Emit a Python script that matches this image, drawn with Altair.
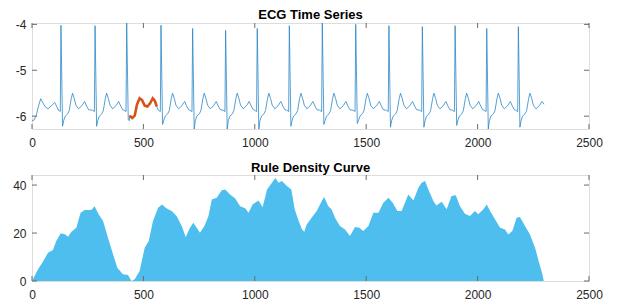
import altair as alt
import pandas as pd

# ---------------- data ----------------
# ECG: R-peak positions, R-peak heights and S-trough depths per beat
ecg_r_pos = [130, 283, 425, 579, 721, 869, 1011, 1155, 1303, 1453, 1602, 1752, 1899, 2041, 2183]
ecg_r_val = [-4.02, -4.03, -3.97, -4.02, -4.09, -4.13, -4.09, -4.03, -3.97, -4.00, -4.03, -4.05, -4.03, -4.09, -4.05]
ecg_s_val = [-6.22, -6.22, -6.08, -6.18, -6.28, -6.28, -6.28, -6.22, -6.18, -6.16, -6.24, -6.24, -6.20, -6.28, -6.24]
# beat shape around each R peak (offset from R, value); None = R / S slots
beat_off = [-12, -3, 0, 7, 12, 19, 30, 37, 46, 52, 60, 67, 79, 94, 106, 115, 124]
beat_val = [-5.87, -5.90, None, None, -6.10, -6.00, -5.95, -5.88, -5.62, -5.50, -5.62, -5.76, -5.84, -5.77, -5.68, -5.78, -5.86]
# samples before the first R peak
ecg_start_x = [0, 10, 20, 28, 39, 50, 60, 72, 90, 102, 110, 118]
ecg_start_y = [-6.10, -6.08, -5.97, -5.80, -5.62, -5.72, -5.80, -5.84, -5.76, -5.70, -5.78, -5.86]
ecg_end_x = 2298
ecg_end_y = -5.74

# highlighted (orange) sub-sequence
hl_x = [438, 450, 461, 471, 483, 494, 506, 518, 530, 542, 551, 560]
hl_y = [-5.99, -6.04, -5.99, -5.75, -5.61, -5.65, -5.77, -5.79, -5.72, -5.61, -5.66, -5.79]

# rule density curve
dens_x = [0, 3, 27, 49, 72, 94, 109, 129, 147, 162, 177, 199, 218, 237, 266, 281, 299, 319, 341, 364,
          383, 408, 431, 446, 461, 483, 506, 524, 543, 566, 584, 597, 611, 627, 649, 672, 690, 709, 724,
          739, 754, 774, 792, 807, 829, 852, 867, 889, 912, 934, 957, 972, 990, 1017, 1035, 1055, 1077,
          1092, 1107, 1122, 1144, 1164, 1179, 1197, 1212, 1222, 1233, 1255, 1278, 1300, 1311, 1330, 1345,
          1360, 1382, 1405, 1427, 1450, 1469, 1487, 1510, 1532, 1555, 1577, 1600, 1619, 1640, 1659, 1674,
          1689, 1712, 1734, 1749, 1764, 1779, 1802, 1815, 1839, 1861, 1883, 1902, 1921, 1943, 1966, 1988,
          2003, 2026, 2041, 2056, 2078, 2101, 2123, 2138, 2156, 2175, 2190, 2213, 2235, 2258, 2276, 2291, 2297]
dens_y = [0, 0.5, 4.9, 8, 11.8, 12.9, 16.7, 19.9, 19.5, 18.5, 20.5, 22.2, 28.5, 29.6, 29.6, 31.2, 27.8, 25, 18, 11.1,
          5.5, 2.8, 2.5, 0, 0.7, 4.2, 13.9, 16.7, 25, 30.5, 31.9, 30.8, 29.9, 29.2, 27.1, 22.9, 18.3, 22.2, 24.3,
          22.2, 20.1, 22.9, 27.1, 34, 34.7, 37.8, 38.2, 36.1, 34.4, 31.2, 30.3, 28.5, 31.9, 33.6, 30.8, 38.2, 41,
          43, 41, 41.7, 39.6, 38.2, 29.9, 25, 21.5, 20.5, 23.6, 26.4, 29.2, 33.3, 35, 31.2, 29.8,
          26.4, 22.9, 21.5, 18.8, 22.5, 22.2, 20.8, 22.9, 28.5, 28.5, 32.6, 34.7, 32.6, 29.2, 29.2, 32.6,
          36.1, 33.6, 38.9, 41, 41.7, 38.2, 33.3, 31.5, 33, 29.9, 35.4, 35.8, 31.2, 28, 27.1, 29.2,
          27.8, 29.9, 31.9, 29.2, 25.7, 22.2, 21.5, 19.4, 20.8, 26.4, 26.7, 22.9, 19.4, 13.9, 7.6, 2.8, 0]

x_ticks = [0, 500, 1000, 1500, 2000, 2500]
ecg_ticks = [-6, -5, -4]
dens_ticks = [0, 20, 40]
titles = ["ECG Time Series", "Rule Density Curve"]

# ---------------- build tables ----------------
ex, ey = list(ecg_start_x), list(ecg_start_y)
for rp, rv, sv in zip(ecg_r_pos, ecg_r_val, ecg_s_val):
    for off, v in zip(beat_off, beat_val):
        xx = rp + off
        if xx >= ecg_end_x:
            break
        if off == 0:
            v = rv
        elif off == 7:
            v = sv
        ex.append(xx)
        ey.append(v)
ex.append(ecg_end_x)
ey.append(ecg_end_y)
# the highlighted part is the series itself there
pts = [(a, b) for a, b in zip(ex, ey) if not (hl_x[0] <= a <= hl_x[-1])]
pts += list(zip(hl_x, hl_y))
pts.sort()
ecg_df = pd.DataFrame(pts, columns=["x", "y"])
hl_df = pd.DataFrame({"x": hl_x, "y": hl_y})
dens_df = pd.DataFrame({"x": dens_x, "y": dens_y})

W, H = 557, 106
TL = 5
FONT = "Liberation Sans"
FRAME = "#6b6b6b"


def panel(title, layers_data, ydomain, yticks, title_gap):
    xs = alt.Scale(domain=[0, 2500], nice=False, zero=False)
    ys = alt.Scale(domain=ydomain, nice=False, zero=False)
    xax = alt.Axis(values=x_ticks, ticks=False, domain=False, grid=False, labelFlush=False,
                   labelPadding=8, labelFontSize=12, labelFont=FONT, labelColor="#262626",
                   labelExpr="'' + datum.value", title=None)
    yax = alt.Axis(values=yticks, ticks=False, domain=False, grid=False, labelFlush=False,
                   labelPadding=6, labelFontSize=12, labelFont=FONT, labelColor="#262626",
                   labelExpr="'' + datum.value", title=None)
    X = lambda: alt.X("x:Q", scale=xs, axis=xax, title=None)
    Y = lambda: alt.Y("y:Q", scale=ys, axis=yax, title=None)

    layers = []
    for kind, df, opts in layers_data:
        if kind == "line":
            layers.append(alt.Chart(df).mark_line(clip=True, **opts).encode(x=X(), y=Y(), order="x:Q"))
        else:
            layers.append(alt.Chart(df).mark_area(clip=True, **opts).encode(x=X(), y=Y()))

    xt = pd.DataFrame({"x": x_ticks})
    yt = pd.DataFrame({"y": yticks})
    rule = dict(color=FRAME, strokeWidth=1)
    layers.append(alt.Chart(xt).mark_rule(**rule).encode(x=X(), y=alt.value(H), y2=alt.value(H - TL)))
    layers.append(alt.Chart(xt).mark_rule(**rule).encode(x=X(), y=alt.value(0), y2=alt.value(TL)))
    layers.append(alt.Chart(yt).mark_rule(**rule).encode(y=Y(), x=alt.value(0), x2=alt.value(TL)))
    layers.append(alt.Chart(yt).mark_rule(**rule).encode(y=Y(), x=alt.value(W), x2=alt.value(W - TL)))

    # panel title as a text mark above the plot area
    layers.append(
        alt.Chart(pd.DataFrame({"t": [title]})).mark_text(
            font=FONT, fontSize=13, fontWeight="bold", color="#000000",
            align="center", baseline="alphabetic",
        ).encode(text="t:N", x=alt.value(W / 2), y=alt.value(-title_gap))
    )

    return alt.layer(*layers).properties(width=W, height=H)


top = panel(
    titles[0],
    [("line", ecg_df, dict(color="#2a86c8", strokeWidth=0.8)),
     ("line", hl_df, dict(color="#D95319", strokeWidth=2.6))],
    [-6.28, -3.97], ecg_ticks, 4,
)
bottom = panel(
    titles[1],
    [("area", dens_df, dict(color="#4DBEEE", opacity=1))],
    [0, 44.2], dens_ticks, 3,
)

chart = alt.vconcat(top, bottom, spacing=12).properties(
    padding={"left": 4, "top": 0, "right": 0, "bottom": 0}
).configure_view(stroke=FRAME, strokeWidth=1).configure(background="white")

chart.save("out.html", embed_options={"renderer": "svg", "actions": False})
